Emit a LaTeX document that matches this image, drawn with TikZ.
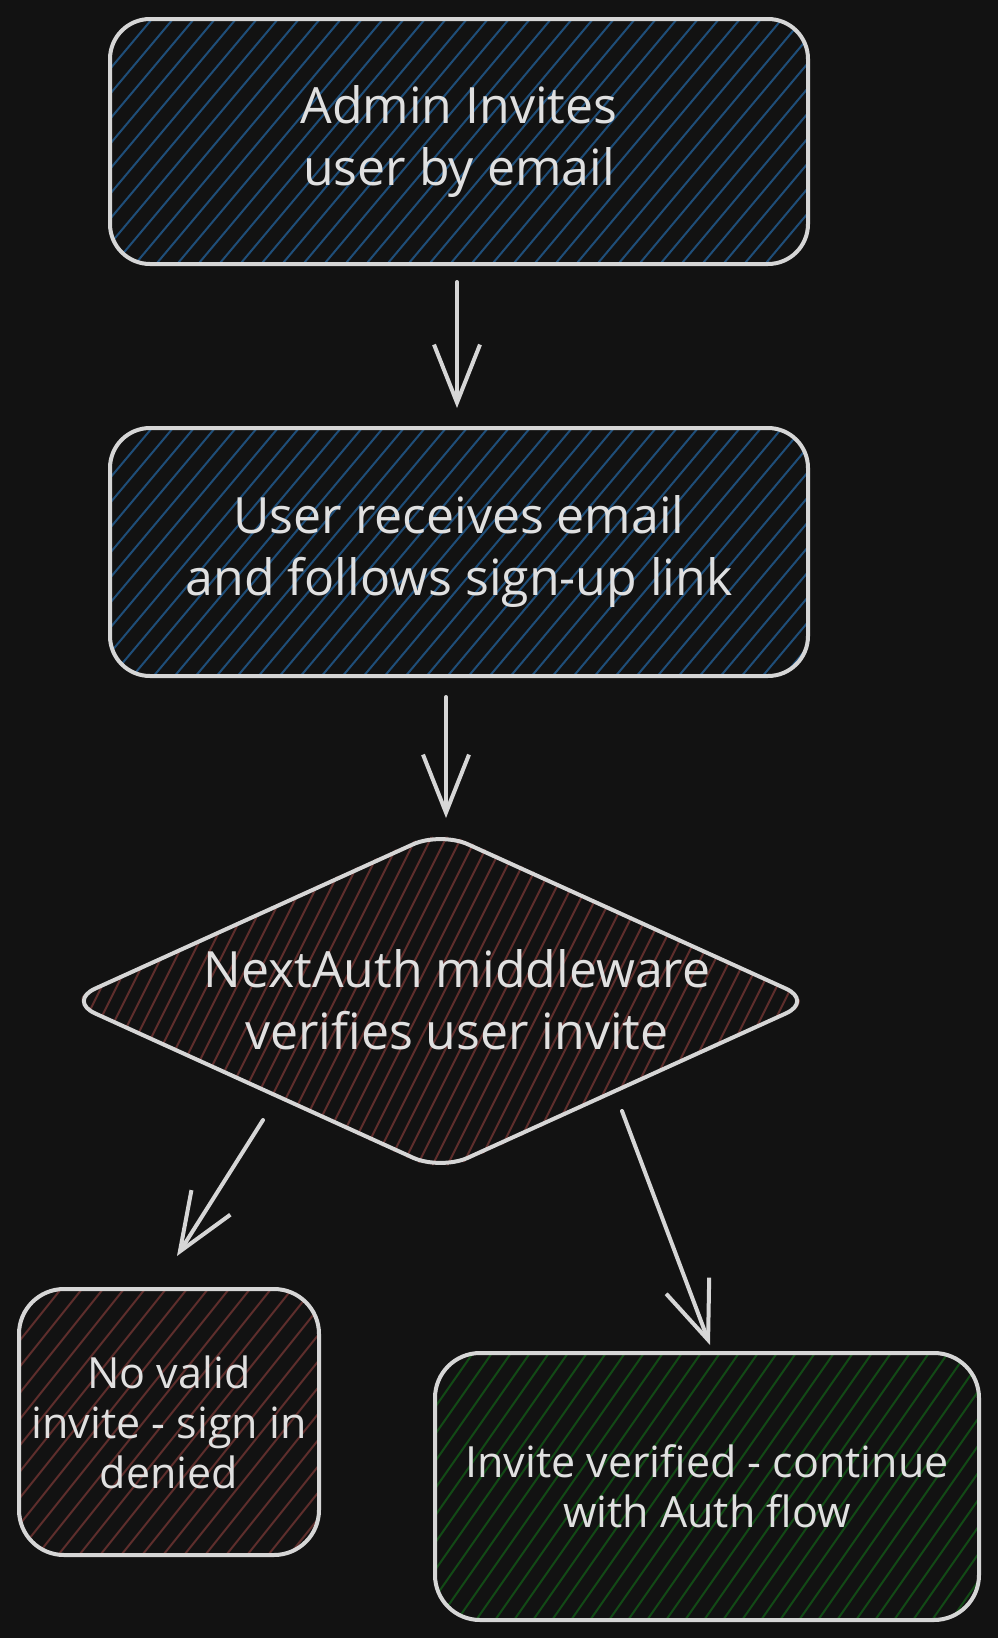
\documentclass[tikz,border=0pt]{standalone}
\usepackage{fontspec}
\setmainfont{Open Sans}
\usetikzlibrary{arrows.meta,shapes.geometric,backgrounds}
\definecolor{bgc}{HTML}{121212}
\definecolor{strokec}{HTML}{D6D6D6}
\definecolor{textc}{HTML}{E0E0E0}
\definecolor{hblue}{HTML}{1F4E79}
\definecolor{hred}{HTML}{5E2E2C}
\definecolor{hgreen}{HTML}{124A16}
\newcommand{\hatchlines}[7]{%
  \pgfmathsetmacro{\hh}{#4-#2}%
  \pgfmathsetmacro{\off}{\hh*#5}%
  \pgfmathsetmacro{\xs}{#1-\off}%
  \pgfmathsetmacro{\xn}{\xs+#6}%
  \foreach \xx in {\xs,\xn,...,#3} \draw[#7, line width=2pt] (\xx,#4) -- ++(\off,-\hh);%
}
\tikzset{
  box/.style={draw=strokec, line width=4pt, rounded corners=40pt, align=center,
    text=textc, inner sep=0pt},
  bigtext/.style={font=\fontsize{50}{62}\selectfont},
  smalltext/.style={font=\fontsize{43}{50}\selectfont},
  conn/.style={draw=strokec, line width=4pt, line cap=round,
    -{Straight Barb[length=58pt,width=46pt,line width=4pt]}},
}
\begin{document}
\begin{tikzpicture}[x=1pt,y=-1pt]
% boxes
\node[box, bigtext, minimum width=698pt, minimum height=245pt] (b1) at (459,141.5)
  {Admin Invites\\user by email};
\node[box, bigtext, minimum width=698pt, minimum height=248pt] (b2) at (459,552)
  {User receives email\\and follows sign-up link};
\node[draw=strokec, line width=4pt, shape=diamond, rounded corners=30pt,
  minimum width=747pt, minimum height=340pt, inner sep=0pt] (d) at (440.5,1001) {};
\node[text=textc, bigtext, align=center] (dt) at (457,1000)
  {NextAuth middleware\\verifies user invite};
\node[box, smalltext, rounded corners=45pt, minimum width=300pt, minimum height=266pt] (b3) at (169,1422)
  {No valid\\invite - sign in\\denied};
\node[box, smalltext, rounded corners=45pt, minimum width=544pt, minimum height=267pt] (b4) at (707,1486.5)
  {Invite verified - continue\\with Auth flow};
% background and hatching
\begin{scope}[on background layer]
  \fill[bgc] (0,0) rectangle (998,1638);
  \begin{scope}
    \clip[rounded corners=40pt] (110,19) rectangle (808,264);
    \hatchlines{110}{19}{808}{264}{0.84}{21}{hblue}
  \end{scope}
  \begin{scope}
    \clip[rounded corners=40pt] (110,428) rectangle (808,676);
    \hatchlines{110}{428}{808}{676}{0.84}{21}{hblue}
  \end{scope}
  \begin{scope}
    \clip[rounded corners=30pt] (d.west) -- (d.north) -- (d.east) -- (d.south) -- cycle;
    \hatchlines{60}{830}{820}{1172}{0.5}{15}{hred}
  \end{scope}
  \begin{scope}
    \clip[rounded corners=45pt] (19,1289) rectangle (319,1555);
    \hatchlines{19}{1289}{319}{1555}{0.8}{21}{hred}
  \end{scope}
  \begin{scope}
    \clip[rounded corners=45pt] (435,1353) rectangle (979,1620);
    \hatchlines{435}{1353}{979}{1620}{0.7}{19}{hgreen}
  \end{scope}
\end{scope}
% connectors
\draw[conn] ([xshift=-2pt,yshift=-16pt]b1.south) -- ([xshift=-2pt,yshift=18pt]b2.north);
\draw[conn] ([xshift=-13pt,yshift=-19pt]b2.south) -- ([xshift=5.5pt,yshift=11pt]d.north);
\draw[conn] ([xshift=-177.5pt,yshift=-119pt]d.center) -- ([xshift=8pt,yshift=31pt]b3.north);
\draw[conn] ([xshift=181.5pt,yshift=-110pt]d.center) -- ([xshift=3pt,yshift=6pt]b4.north);
\end{tikzpicture}
\end{document}
